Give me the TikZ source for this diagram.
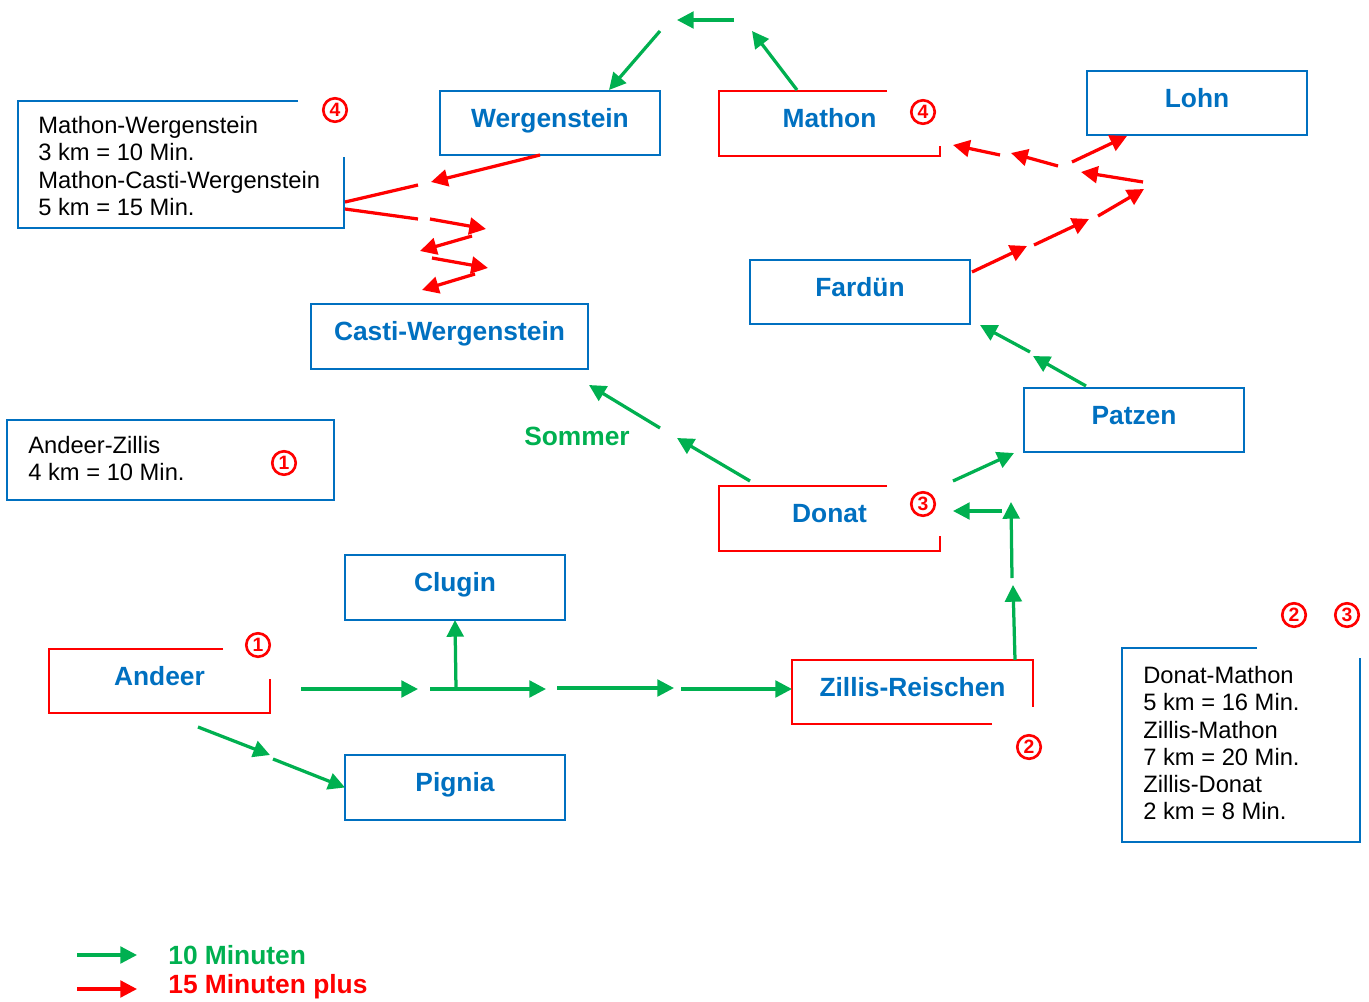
\documentclass[tikz,border=0pt]{standalone}
\usepackage{fontspec}
\setmainfont{Liberation Sans}
\usetikzlibrary{arrows.meta, calc}
\definecolor{boxblue}{RGB}{0,112,192}
\definecolor{arrgreen}{RGB}{0,176,80}
\tikzset{
  ort/.style={draw=boxblue, line width=1.6pt, outer sep=0pt, text=boxblue,
    font=\bfseries\fontsize{15}{17}\selectfont, text height=11pt, text depth=6pt,
    minimum width=4.4cm, minimum height=1.28cm},
  rotort/.style={ort, draw=none},
  rotrand/.style={draw=red, line width=1.6pt},
  blaurand/.style={draw=boxblue, line width=1.6pt},
  info/.style={anchor=north west, inner sep=0pt, align=left,
    font=\fontsize{13.5}{15.5}\selectfont},
  nr/.style={circle, draw=red, line width=1.5pt, text=red, inner sep=0pt,
    minimum size=0.47cm, font=\bfseries\fontsize{11}{11}\selectfont},
  garr/.style={->, draw=arrgreen, line width=1.85pt},
  rarr/.style={->, draw=red, line width=1.85pt},
  rlin/.style={draw=red, line width=1.85pt}
}
\begin{document}
\begin{tikzpicture}[x=0.02cm, y=-0.02cm, >={Triangle[length=9.5pt,width=9.5pt]}]
  \useasboundingbox (0,0) rectangle (1369,1001);

  % Orte
  \node[ort] (wergenstein) at (550,123) {Wergenstein};
  \node[ort] (lohn) at (1197,103) {Lohn};
  \node[ort] (fardun) at (860,292) {Fardün};
  \node[ort, minimum width=5.54cm, minimum height=1.3cm] (casti) at (449.5,336.5) {Casti-Wergenstein};
  \node[ort] (patzen) at (1134,420) {Patzen};
  \node[ort, minimum height=1.3cm] (clugin) at (455,587.5) {Clugin};
  \node[ort, minimum height=1.3cm] (pignia) at (455,787.5) {Pignia};

  % rote Orte, Rahmen offen
  \node[rotort, minimum width=4.42cm, minimum height=1.3cm] (mathon) at (829.5,123.5) {Mathon};
  \draw[rotrand] ($(mathon.north west)+(168,0)$) -- (mathon.north west) |- (mathon.south east) -- ++(0,-10);
  \node[rotort, minimum width=4.42cm, minimum height=1.3cm] (donat) at (829.5,518.5) {Donat};
  \draw[rotrand] ($(donat.north west)+(168,0)$) -- (donat.north west) |- (donat.south east) -- ++(0,-15);
  \node[rotort, minimum width=4.42cm] (andeer) at (159.5,681) {Andeer};
  \draw[rotrand] ($(andeer.north west)+(174,0)$) -- (andeer.north west) |- (andeer.south east) -- ++(0,-34);
  \node[rotort, minimum width=4.82cm] (zillis) at (912.5,692) {Zillis-Reischen};
  \draw[rotrand] ($(zillis.south west)+(200,0)$) -- (zillis.south west) |- (zillis.north east) -- ++(0,47);

  % Infokaesten
  \node[rotort, minimum width=6.52cm, minimum height=2.54cm] (mwbox) at (181,164.5) {};
  \draw[blaurand] ($(mwbox.north west)+(280,0)$) -- (mwbox.north west) |- (mwbox.south east) -- ++(0,-71);
  \node[info] (mwtext) at (38,116) {Mathon-Wergenstein\\3 km = 10 Min.\\Mathon-Casti-Wergenstein\\5 km = 15 Min.};
  \node[rotort, minimum width=4.76cm, minimum height=3.88cm] (dmbox) at (1241,745) {};
  \draw[blaurand] ($(dmbox.north west)+(135,0)$) -- (dmbox.north west) |- (dmbox.south east) -- ++(0,-184);
  \node[info] (dmtext) at (1143,666) {Donat-Mathon\\5 km = 16 Min.\\Zillis-Mathon\\7 km = 20 Min.\\Zillis-Donat\\2 km = 8 Min.};
  \node[ort, minimum width=6.54cm, minimum height=1.6cm] (azbox) at (170.5,460) {};
  \node[info] (aztext) at (28,436) {Andeer-Zillis\\4 km = 10 Min.};

  % Nummern
  \node[nr] (n4a) at (335,110) {4};
  \node[nr] (n4b) at (923,112) {4};
  \node[nr] (n3a) at (923,504) {3};
  \node[nr] (n1a) at (284,463) {1};
  \node[nr] (n1b) at (258,645) {1};
  \node[nr] (n2a) at (1029,747) {2};
  \node[nr] (n2b) at (1294,615) {2};
  \node[nr] (n3b) at (1347,615) {3};

  % Punkte der Pfeile
  \coordinate (a0) at (301,689);  \coordinate (a1) at (418,689);
  \coordinate (a2) at (430,689);  \coordinate (a3) at (546,689);
  \coordinate (a4) at (456,689);
  \coordinate (a5) at (557,688);  \coordinate (a6) at (674,688);
  \coordinate (a7) at (681,689);
  \coordinate (b0) at (198,727);  \coordinate (b1) at (270,755);
  \coordinate (b2) at (273,759);
  \coordinate (z0) at (1015,660); \coordinate (z1) at (1013,585);
  \coordinate (z2) at (1012,578); \coordinate (z3) at (1011,502);
  \coordinate (z4) at (1002,511); \coordinate (z5) at (953,511);
  \coordinate (z6) at (953,481);  \coordinate (z7) at (1014,453);
  \coordinate (p0) at (1086,386); \coordinate (p1) at (1033,356);
  \coordinate (p2) at (1030,352); \coordinate (p3) at (980,325);
  \coordinate (d0) at (750,481);  \coordinate (d1) at (677,438);
  \coordinate (d2) at (660,428);  \coordinate (d3) at (589,385);
  \coordinate (m0) at (797,90);   \coordinate (m1) at (752,31);
  \coordinate (m2) at (734,20);   \coordinate (m3) at (677,20);
  \coordinate (m4) at (660,31);   \coordinate (m5) at (609,90);
  \coordinate (r0) at (540,155);  \coordinate (r1) at (431,182);
  \coordinate (r2) at (418,185);  \coordinate (r3) at (345,202);
  \coordinate (r4) at (345,209);  \coordinate (r5) at (418,219);
  \coordinate (r6) at (430,219);  \coordinate (r7) at (486,229);
  \coordinate (r8) at (472,236);  \coordinate (r9) at (420,251);
  \coordinate (r10) at (432,258); \coordinate (r11) at (488,268);
  \coordinate (r12) at (475,274); \coordinate (r13) at (422,290);
  \coordinate (f0) at (972,272);  \coordinate (f1) at (1027,246);
  \coordinate (f2) at (1034,245); \coordinate (f3) at (1089,219);
  \coordinate (f4) at (1098,216); \coordinate (f5) at (1144,189);
  \coordinate (f6) at (1143,182); \coordinate (f7) at (1081,172);
  \coordinate (f8) at (1072,162); \coordinate (f9) at (1127,136);
  \coordinate (f10) at (1058,166); \coordinate (f11) at (1011,153);
  \coordinate (f12) at (1000,155); \coordinate (f13) at (953,145);

  % gruene Pfeile
  \draw[garr] (a0) -- (a1);
  \draw[garr] (a2) -- (a3);
  \draw[garr] (a4) -- (clugin.south);
  \draw[garr] (a5) -- (a6);
  \draw[garr] (a7) -- (zillis.west |- a7);
  \draw[garr] (b0) -- (b1);
  \draw[garr] (b2) -- (pignia.west);
  \draw[garr] (z0) -- (z1);
  \draw[garr] (z2) -- (z3);
  \draw[garr] (z4) -- (z5);
  \draw[garr] (z6) -- (z7);
  \draw[garr] (p0) -- (p1);
  \draw[garr] (p2) -- (p3);
  \draw[garr] (d0) -- (d1);
  \draw[garr] (d2) -- (d3);
  \draw[garr] (m0) -- (m1);
  \draw[garr] (m2) -- (m3);
  \draw[garr] (m4) -- (m5);

  % rote Pfeile
  \draw[rarr] (r0) -- (r1);
  \draw[rlin] (r2) -- (r3);
  \draw[rlin] (r4) -- (r5);
  \draw[rarr] (r6) -- (r7);
  \draw[rarr] (r8) -- (r9);
  \draw[rarr] (r10) -- (r11);
  \draw[rarr] (r12) -- (r13);
  \draw[rarr] (f0) -- (f1);
  \draw[rarr] (f2) -- (f3);
  \draw[rarr] (f4) -- (f5);
  \draw[rarr] (f6) -- (f7);
  \draw[rarr] (f8) -- (f9);
  \draw[rarr] (f10) -- (f11);
  \draw[rarr] (f12) -- (f13);

  \node[text=arrgreen, font=\bfseries\fontsize{15}{17}\selectfont] (sommer) at (577,436) {Sommer};

  % Legende
  \coordinate (l0) at (77,955);  \coordinate (l1) at (137,955);
  \coordinate (l2) at (77,989);  \coordinate (l3) at (137,989);
  \draw[garr] (l0) -- (l1);
  \draw[rarr] (l2) -- (l3);
  \node[anchor=base west, inner sep=0pt, text=arrgreen, font=\bfseries\fontsize{15}{17}\selectfont] (leg10) at (168,964) {10 Minuten};
  \node[anchor=base west, inner sep=0pt, text=red, font=\bfseries\fontsize{15}{17}\selectfont] (leg15) at (168,993) {15 Minuten plus};
\end{tikzpicture}
\end{document}
